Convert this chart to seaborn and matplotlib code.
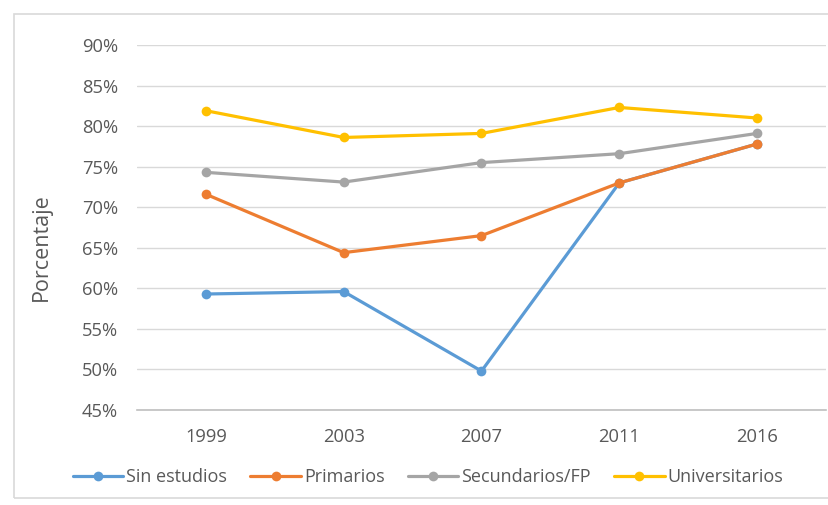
import matplotlib
matplotlib.use("Agg")
import matplotlib.pyplot as plt
import matplotlib.patches as mpatches
from matplotlib.ticker import FuncFormatter, MultipleLocator
import pandas as pd
import seaborn as sns

years = ["1999", "2003", "2007", "2011", "2016"]
sin_estudios = [59.3, 59.6, 49.8, 73.0, 77.8]
primarios = [71.6, 64.4, 66.5, 73.0, 77.8]
secundarios = [74.3, 73.1, 75.5, 76.6, 79.1]
universitarios = [81.9, 78.6, 79.1, 82.3, 81.0]

series_names = ["Sin estudios", "Primarios", "Secundarios/FP", "Universitarios"]
series_values = [sin_estudios, primarios, secundarios, universitarios]
palette = ["#5B9BD5", "#ED7D31", "#A5A5A5", "#FFC000"]

df = pd.DataFrame(
    [(y, name, v) for name, vals in zip(series_names, series_values)
     for y, v in zip(years, vals)],
    columns=["Año", "Nivel", "Porcentaje"],
)

sns.set_theme(style="white")
plt.rcParams["font.family"] = ["Open Sans", "DejaVu Sans"]
text_color = "#595959"

fig = plt.figure(figsize=(8.29, 5.05), dpi=100)
ax = fig.add_axes([137 / 829, 1 - 410 / 505, (826 - 137) / 829, (410 - 45) / 505])

# outer chart frame
fig.patches.append(mpatches.Rectangle(
    (14 / 829, 1 - 498 / 505), 830 / 829, 484 / 505,
    transform=fig.transFigure, fill=False, edgecolor="#D9D9D9", linewidth=1.2,
    zorder=0))

sns.lineplot(
    data=df, x="Año", y="Porcentaje", hue="Nivel", hue_order=series_names,
    palette=palette, marker="o", markersize=7, markeredgewidth=0,
    linewidth=2.3, sort=False, ax=ax, legend=True,
)

ax.set_xlim(-0.5, 4.5)
ax.set_ylim(45, 90)
ax.yaxis.set_major_locator(MultipleLocator(5))
ax.yaxis.set_major_formatter(FuncFormatter(lambda v, p: f"{v:.0f}%"))
ax.grid(axis="y", color="#D9D9D9", linewidth=1.0)
ax.set_axisbelow(True)
for s in ["top", "right", "left"]:
    ax.spines[s].set_visible(False)
ax.spines["bottom"].set_color("#BFBFBF")
ax.spines["bottom"].set_linewidth(1.2)
ax.tick_params(axis="both", length=0, labelsize=13.2, colors=text_color)
ax.tick_params(axis="y", pad=13.5)
ax.tick_params(axis="x", pad=13)
ax.set_xlabel("")
ax.set_ylabel("Porcentaje", fontsize=15.5, color=text_color)
ax.yaxis.set_label_coords(-0.1234, 0.447)

handles, labels = ax.get_legend_handles_labels()
ax.get_legend().remove()
fig.legend(handles, labels, loc="center", bbox_to_anchor=(428 / 829, 1 - 477 / 505),
           ncol=4, frameon=False, fontsize=13, labelcolor=text_color,
           handlelength=2.8, handletextpad=0.15, columnspacing=1.3)

fig.savefig("out.png", dpi=100, facecolor="white")
